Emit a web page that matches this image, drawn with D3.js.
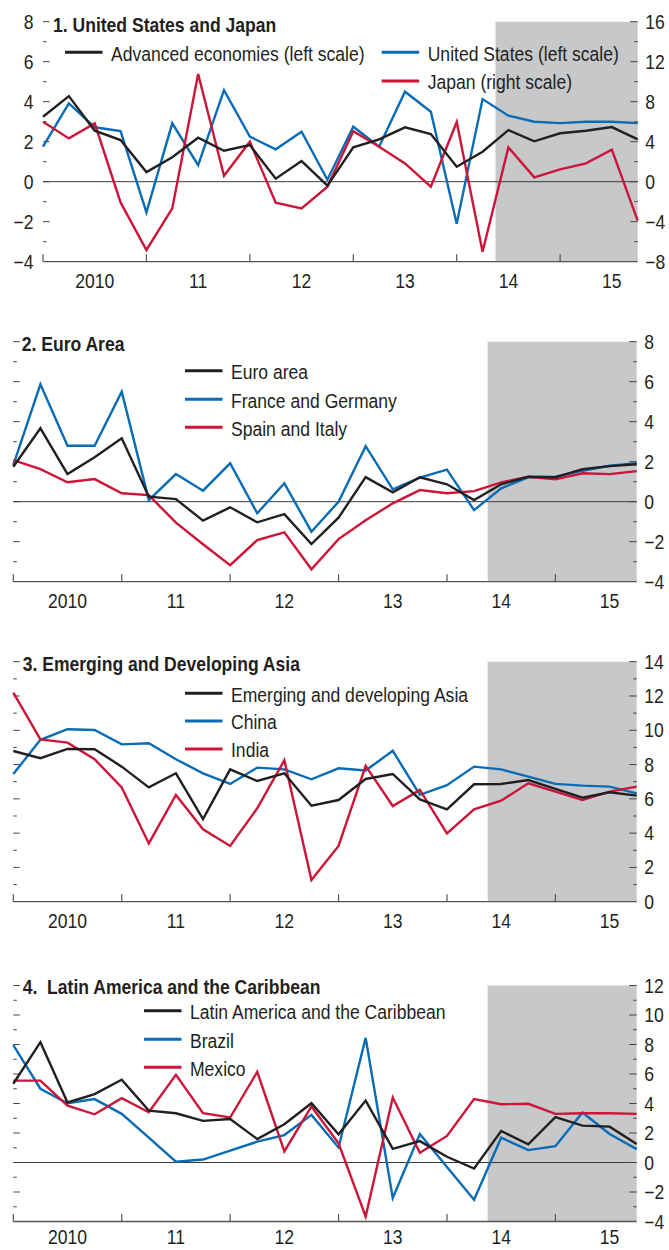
<!DOCTYPE html>
<html><head><meta charset="utf-8">
<script src="https://cdn.jsdelivr.net/npm/d3@7"></script>
<style>
body{margin:0;background:#fff}
svg{display:block}
text{font-family:"Liberation Sans",Arial,Helvetica,sans-serif;fill:#231f20}
</style>
</head><body>
<svg id="chart" width="669" height="1250"></svg>
<script>
// ---------- data ----------
const quarters = ["2010Q1","2010Q2","2010Q3","2010Q4","2011Q1","2011Q2","2011Q3","2011Q4",
  "2012Q1","2012Q2","2012Q3","2012Q4","2013Q1","2013Q2","2013Q3","2013Q4",
  "2014Q1","2014Q2","2014Q3","2014Q4","2015Q1","2015Q2","2015Q3","2015Q4"];
const yearLabels = ["2010","11","12","13","14","15"];
const projectionStart = "2014Q3";

const advancedEconomies = [3.25,4.28,2.55,2.08,0.48,1.22,2.2,1.55,1.83,0.15,1.03,-0.2,1.72,2.12,2.72,2.38,0.75,1.5,2.58,2.02,2.42,2.55,2.73,2.12];
const unitedStates = [1.75,3.92,2.72,2.53,-1.53,2.92,0.83,4.58,2.25,1.62,2.5,0.1,2.75,1.75,4.5,3.5,-2.1,4.13,3.3,3.0,2.93,3.0,3.0,2.93];
const japan = [6.0,4.33,5.83,-2.07,-6.83,-2.67,10.77,0.6,4.0,-2.1,-2.67,-0.5,5.05,3.5,1.83,-0.5,5.97,-7.0,3.43,0.43,1.23,1.83,3.2,-3.9];

const euroArea = [1.75,3.67,1.38,2.22,3.17,0.25,0.13,-0.95,-0.28,-1.03,-0.62,-2.12,-0.8,1.23,0.47,1.22,0.87,0.08,0.87,1.25,1.22,1.63,1.78,1.87];
const franceGermany = [1.83,5.87,2.8,2.8,5.5,0.08,1.38,0.55,1.92,-0.58,0.92,-1.5,0.0,2.78,0.62,1.2,1.6,-0.42,0.67,1.22,1.25,1.55,1.8,1.92];
const spainItaly = [2.08,1.63,0.97,1.13,0.42,0.33,-1.05,-2.13,-3.17,-1.92,-1.53,-3.38,-1.87,-0.93,-0.08,0.58,0.42,0.53,0.97,1.25,1.12,1.42,1.38,1.53];

const emergingAsia = [8.79,8.37,8.91,8.89,7.88,6.67,7.49,4.82,7.72,7.04,7.49,5.6,5.93,7.16,7.45,5.97,5.39,6.85,6.87,7.1,6.58,6.07,6.38,6.19];
const china = [7.45,9.44,10.06,10.02,9.18,9.24,8.31,7.49,6.87,7.82,7.72,7.14,7.78,7.65,8.8,6.23,6.8,7.88,7.72,7.3,6.87,6.77,6.71,6.32];
const india = [12.2,9.47,9.28,8.31,6.67,3.4,6.23,4.22,3.25,5.45,8.25,1.26,3.25,7.92,5.58,6.52,3.99,5.39,5.89,6.91,6.42,5.93,6.42,6.71];

const latinAmerica = [5.34,8.16,4.07,4.64,5.61,3.52,3.34,2.82,2.95,1.59,2.59,4.02,1.91,4.2,0.93,1.45,0.39,-0.41,2.14,1.23,3.07,2.5,2.43,1.25];
const brazil = [7.95,5.0,4.02,4.3,3.3,1.68,0.05,0.2,0.8,1.41,1.86,3.23,1.02,8.45,-2.41,1.93,-0.3,-2.52,1.68,0.84,1.11,3.39,1.93,0.91];
const mexico = [5.55,5.55,3.86,3.27,4.36,3.41,5.95,3.34,3.05,6.14,0.75,3.8,1.3,-3.66,4.41,0.66,1.8,4.3,3.95,3.98,3.3,3.34,3.34,3.3];

const panelTitles = ["1. United States and Japan","2. Euro Area","3. Emerging and Developing Asia","4.  Latin America and the Caribbean"];

// ---------- styling ----------
const BLACK = "#231f20", BLUE = "#0a6cb4", RED = "#cc1539", SHADE = "#c7c8ca";
const FS = 19.5, SX = 0.9;

const svg = d3.select("#chart");

function txt(g, x, y, s, anchor, bold) {
  return g.append("text")
    .attr("transform", `translate(${x},${y}) scale(${SX},1)`)
    .attr("text-anchor", anchor || "start")
    .style("font-size", FS + "px")
    .style("font-weight", bold ? "bold" : "normal")
    .style("white-space", "pre")
    .attr("xml:space", "preserve")
    .text(s);
}
const fmt = d => d < 0 ? "\u2212" + Math.abs(d) : String(d);

const panels = [
  { title: panelTitles[0], left: 43, right: 637.7, top: 21.7, bottom: 261.7,
    domain: [-4, 8], leftStep: 1, leftLabelStep: 2, leftLabels: true,
    rDomain: [-8, 16], rStep: 2, rLabelStep: 4, titleX: 53, titleDy: 10, yearDy: 26,
    series: [
      { name: "United States (left scale)", values: unitedStates, color: BLUE, axis: "l", lx: 381.7, ly: 52.3 },
      { name: "Japan (right scale)", values: japan, color: RED, axis: "r", lx: 381.7, ly: 81 },
      { name: "Advanced economies (left scale)", values: advancedEconomies, color: BLACK, axis: "l", lx: 65, ly: 52.3 }
    ] },
  { title: panelTitles[1], left: 13.3, right: 636.7, top: 341.7, bottom: 581.7,
    domain: [-4, 8], leftStep: 1, leftLabels: false,
    rDomain: [-4, 8], rStep: 1, rLabelStep: 2, titleX: 21.7, titleDy: 9.5, yearDy: 26,
    series: [
      { name: "France and Germany", values: franceGermany, color: BLUE, axis: "l", lx: 185, ly: 399.3 },
      { name: "Spain and Italy", values: spainItaly, color: RED, axis: "l", lx: 185, ly: 427.3 },
      { name: "Euro area", values: euroArea, color: BLACK, axis: "l", lx: 185, ly: 370.7 }
    ] },
  { title: panelTitles[2], left: 13.3, right: 636.7, top: 661.7, bottom: 901.7,
    domain: [0, 14], leftStep: 1, leftLabels: false,
    rDomain: [0, 14], rStep: 1, rLabelStep: 2, titleX: 22.7, titleDy: 9.5, yearDy: 26,
    series: [
      { name: "China", values: china, color: BLUE, axis: "l", lx: 185, ly: 721 },
      { name: "India", values: india, color: RED, axis: "l", lx: 185, ly: 749 },
      { name: "Emerging and developing Asia", values: emergingAsia, color: BLACK, axis: "l", lx: 185, ly: 693.3 }
    ] },
  { title: panelTitles[3], left: 13.3, right: 636.7, top: 985.5, bottom: 1221.5,
    domain: [-4, 12], leftStep: 1, leftLabels: false,
    rDomain: [-4, 12], rStep: 1, rLabelStep: 2, titleX: 22.7, titleDy: 8, yearDy: 22.5,
    series: [
      { name: "Brazil", values: brazil, color: BLUE, axis: "l", lx: 144, ly: 1039.3 },
      { name: "Mexico", values: mexico, color: RED, axis: "l", lx: 144, ly: 1067.3 },
      { name: "Latin America and the Caribbean", values: latinAmerica, color: BLACK, axis: "l", lx: 144, ly: 1010.7 }
    ] }
];

panels.forEach(p => {
  const g = svg.append("g");
  const x = d3.scalePoint().domain(quarters).range([p.left, p.right]);
  const y = d3.scaleLinear().domain(p.domain).range([p.bottom, p.top]);
  const yr = d3.scaleLinear().domain(p.rDomain).range([p.bottom, p.top]);
  const step = x.step();

  // projection shading
  const sx0 = x(projectionStart) - step / 2;
  g.append("rect").attr("x", sx0).attr("y", p.top)
    .attr("width", p.right - sx0).attr("height", p.bottom - p.top)
    .attr("fill", SHADE);

  // zero line
  if (p.domain[0] < 0) {
    g.append("line").attr("x1", p.left).attr("x2", p.right)
      .attr("y1", y(0)).attr("y2", y(0))
      .attr("stroke", "#3a3a3a").attr("stroke-width", 1);
  }

  // left ticks
  const lt = d3.range(p.domain[0] + p.leftStep, p.domain[1] + 0.001, p.leftStep);
  lt.forEach(v => {
    const major = (v % 2 === 0);
    g.append("line").attr("x1", p.left).attr("x2", p.left + (major ? 6.5 : 3.5))
      .attr("y1", y(v)).attr("y2", y(v))
      .attr("stroke", "#444").attr("stroke-width", 1);
  });
  if (p.leftLabels) {
    d3.range(p.domain[0], p.domain[1] + 0.001, p.leftLabelStep).forEach(v => {
      txt(g, p.left - 9.5, y(v) + 7, fmt(v), "end");
    });
  }

  // right ticks and labels
  const rt = d3.range(p.rDomain[0] + p.rStep, p.rDomain[1] + 0.001, p.rStep);
  rt.forEach(v => {
    const major = (v % p.rLabelStep === 0);
    g.append("line").attr("x1", p.right - (major ? 7.5 : 3.5)).attr("x2", p.right)
      .attr("y1", yr(v)).attr("y2", yr(v))
      .attr("stroke", "#444").attr("stroke-width", 1);
  });
  d3.range(p.rDomain[0], p.rDomain[1] + 0.001, p.rLabelStep).forEach(v => {
    txt(g, p.right + 7.5, yr(v) + 7, fmt(v), "start");
  });

  // bottom axis
  g.append("line").attr("x1", p.left).attr("x2", p.right)
    .attr("y1", p.bottom).attr("y2", p.bottom)
    .attr("stroke", "#555").attr("stroke-width", 1.3);
  yearLabels.forEach((lab, i) => {
    const q1 = quarters[i * 4];
    g.append("line").attr("x1", x(q1)).attr("x2", x(q1))
      .attr("y1", p.bottom).attr("y2", p.bottom - 7.5)
      .attr("stroke", "#555").attr("stroke-width", 1.2);
    txt(g, x(quarters[i * 4 + 2]), p.bottom + p.yearDy, lab, "middle");
  });

  // title
  txt(g, p.titleX, p.top + p.titleDy, p.title, "start", true);

  // lines
  p.series.forEach(s => {
    const sc = s.axis === "r" ? yr : y;
    const line = d3.line().x((d, i) => x(quarters[i])).y(d => sc(d));
    g.append("path").datum(s.values).attr("d", line)
      .attr("fill", "none").attr("stroke", s.color)
      .attr("stroke-width", 2.4).attr("stroke-linejoin", "miter");
  });

  // legend
  p.series.forEach(s => {
    g.append("line").attr("x1", s.lx).attr("x2", s.lx + 37.5)
      .attr("y1", s.ly).attr("y2", s.ly)
      .attr("stroke", s.color).attr("stroke-width", 3);
    txt(g, s.lx + 46, s.ly + 8.3, s.name, "start");
  });
});
</script>
</body></html>
